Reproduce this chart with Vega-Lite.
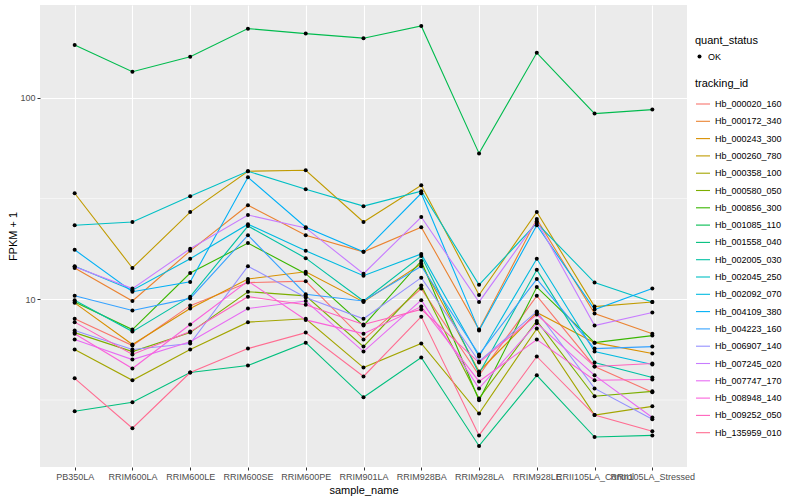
{
"$schema": "https://vega.github.io/schema/vega-lite/v6.json",
"width": 647, "height": 462,
"autosize": {"type": "none"},
"padding": {"left": 40, "top": 5, "right": 113, "bottom": 33},
"background": "white",
"config": {
 "font": "Liberation Sans",
 "view": {"fill": "#EBEBEB", "stroke": null},
 "axis": {"grid": true, "gridColor": "#FFFFFF", "gridWidth": 1.1, "domain": false, "tickColor": "#333333", "tickSize": 3, "labelColor": "#4D4D4D", "labelFontSize": 9, "titleFontSize": 11, "titleFontWeight": "normal", "titleColor": "#000000", "labelPadding": 2},
 "legend": {"titleFontSize": 11, "titleFontWeight": "normal", "titleColor": "#000000", "labelFontSize": 9, "labelColor": "#000000"}
},
"datasets": {
 "minor": [{"fpkm1": 3.162}, {"fpkm1": 31.62}],
 "expr": [
 {"tracking_id":"Hb_000020_160","sample_name":"PB350LA","fpkm1":8.0,"quant_status":"OK"},
 {"tracking_id":"Hb_000020_160","sample_name":"RRIM600LA","fpkm1":5.89,"quant_status":"OK"},
 {"tracking_id":"Hb_000020_160","sample_name":"RRIM600LE","fpkm1":9.3,"quant_status":"OK"},
 {"tracking_id":"Hb_000020_160","sample_name":"RRIM600SE","fpkm1":12.1,"quant_status":"OK"},
 {"tracking_id":"Hb_000020_160","sample_name":"RRIM600PE","fpkm1":12.3,"quant_status":"OK"},
 {"tracking_id":"Hb_000020_160","sample_name":"RRIM901LA","fpkm1":6.31,"quant_status":"OK"},
 {"tracking_id":"Hb_000020_160","sample_name":"RRIM928BA","fpkm1":11.3,"quant_status":"OK"},
 {"tracking_id":"Hb_000020_160","sample_name":"RRIM928LA","fpkm1":4.19,"quant_status":"OK"},
 {"tracking_id":"Hb_000020_160","sample_name":"RRIM928LE","fpkm1":10.4,"quant_status":"OK"},
 {"tracking_id":"Hb_000020_160","sample_name":"RRII105LA_Control","fpkm1":4.64,"quant_status":"OK"},
 {"tracking_id":"Hb_000020_160","sample_name":"RRII105LA_Stressed","fpkm1":3.45,"quant_status":"OK"},
 {"tracking_id":"Hb_000172_340","sample_name":"PB350LA","fpkm1":14.3,"quant_status":"OK"},
 {"tracking_id":"Hb_000172_340","sample_name":"RRIM600LA","fpkm1":9.8,"quant_status":"OK"},
 {"tracking_id":"Hb_000172_340","sample_name":"RRIM600LE","fpkm1":17.4,"quant_status":"OK"},
 {"tracking_id":"Hb_000172_340","sample_name":"RRIM600SE","fpkm1":29.3,"quant_status":"OK"},
 {"tracking_id":"Hb_000172_340","sample_name":"RRIM600PE","fpkm1":20.8,"quant_status":"OK"},
 {"tracking_id":"Hb_000172_340","sample_name":"RRIM901LA","fpkm1":17.2,"quant_status":"OK"},
 {"tracking_id":"Hb_000172_340","sample_name":"RRIM928BA","fpkm1":22.8,"quant_status":"OK"},
 {"tracking_id":"Hb_000172_340","sample_name":"RRIM928LA","fpkm1":7.07,"quant_status":"OK"},
 {"tracking_id":"Hb_000172_340","sample_name":"RRIM928LE","fpkm1":25.0,"quant_status":"OK"},
 {"tracking_id":"Hb_000172_340","sample_name":"RRII105LA_Control","fpkm1":8.5,"quant_status":"OK"},
 {"tracking_id":"Hb_000172_340","sample_name":"RRII105LA_Stressed","fpkm1":6.75,"quant_status":"OK"},
 {"tracking_id":"Hb_000243_300","sample_name":"PB350LA","fpkm1":9.6,"quant_status":"OK"},
 {"tracking_id":"Hb_000243_300","sample_name":"RRIM600LA","fpkm1":5.96,"quant_status":"OK"},
 {"tracking_id":"Hb_000243_300","sample_name":"RRIM600LE","fpkm1":9.0,"quant_status":"OK"},
 {"tracking_id":"Hb_000243_300","sample_name":"RRIM600SE","fpkm1":12.6,"quant_status":"OK"},
 {"tracking_id":"Hb_000243_300","sample_name":"RRIM600PE","fpkm1":13.7,"quant_status":"OK"},
 {"tracking_id":"Hb_000243_300","sample_name":"RRIM901LA","fpkm1":9.7,"quant_status":"OK"},
 {"tracking_id":"Hb_000243_300","sample_name":"RRIM928BA","fpkm1":15.0,"quant_status":"OK"},
 {"tracking_id":"Hb_000243_300","sample_name":"RRIM928LA","fpkm1":4.38,"quant_status":"OK"},
 {"tracking_id":"Hb_000243_300","sample_name":"RRIM928LE","fpkm1":8.6,"quant_status":"OK"},
 {"tracking_id":"Hb_000243_300","sample_name":"RRII105LA_Control","fpkm1":6.09,"quant_status":"OK"},
 {"tracking_id":"Hb_000243_300","sample_name":"RRII105LA_Stressed","fpkm1":5.38,"quant_status":"OK"},
 {"tracking_id":"Hb_000260_780","sample_name":"PB350LA","fpkm1":33.6,"quant_status":"OK"},
 {"tracking_id":"Hb_000260_780","sample_name":"RRIM600LA","fpkm1":14.3,"quant_status":"OK"},
 {"tracking_id":"Hb_000260_780","sample_name":"RRIM600LE","fpkm1":27.1,"quant_status":"OK"},
 {"tracking_id":"Hb_000260_780","sample_name":"RRIM600SE","fpkm1":43.2,"quant_status":"OK"},
 {"tracking_id":"Hb_000260_780","sample_name":"RRIM600PE","fpkm1":43.7,"quant_status":"OK"},
 {"tracking_id":"Hb_000260_780","sample_name":"RRIM901LA","fpkm1":24.2,"quant_status":"OK"},
 {"tracking_id":"Hb_000260_780","sample_name":"RRIM928BA","fpkm1":36.8,"quant_status":"OK"},
 {"tracking_id":"Hb_000260_780","sample_name":"RRIM928LA","fpkm1":10.5,"quant_status":"OK"},
 {"tracking_id":"Hb_000260_780","sample_name":"RRIM928LE","fpkm1":27.1,"quant_status":"OK"},
 {"tracking_id":"Hb_000260_780","sample_name":"RRII105LA_Control","fpkm1":9.2,"quant_status":"OK"},
 {"tracking_id":"Hb_000260_780","sample_name":"RRII105LA_Stressed","fpkm1":9.7,"quant_status":"OK"},
 {"tracking_id":"Hb_000358_100","sample_name":"PB350LA","fpkm1":5.63,"quant_status":"OK"},
 {"tracking_id":"Hb_000358_100","sample_name":"RRIM600LA","fpkm1":3.96,"quant_status":"OK"},
 {"tracking_id":"Hb_000358_100","sample_name":"RRIM600LE","fpkm1":5.63,"quant_status":"OK"},
 {"tracking_id":"Hb_000358_100","sample_name":"RRIM600SE","fpkm1":7.7,"quant_status":"OK"},
 {"tracking_id":"Hb_000358_100","sample_name":"RRIM600PE","fpkm1":8.0,"quant_status":"OK"},
 {"tracking_id":"Hb_000358_100","sample_name":"RRIM901LA","fpkm1":4.58,"quant_status":"OK"},
 {"tracking_id":"Hb_000358_100","sample_name":"RRIM928BA","fpkm1":6.03,"quant_status":"OK"},
 {"tracking_id":"Hb_000358_100","sample_name":"RRIM928LA","fpkm1":2.71,"quant_status":"OK"},
 {"tracking_id":"Hb_000358_100","sample_name":"RRIM928LE","fpkm1":7.15,"quant_status":"OK"},
 {"tracking_id":"Hb_000358_100","sample_name":"RRII105LA_Control","fpkm1":2.66,"quant_status":"OK"},
 {"tracking_id":"Hb_000358_100","sample_name":"RRII105LA_Stressed","fpkm1":2.94,"quant_status":"OK"},
 {"tracking_id":"Hb_000580_050","sample_name":"PB350LA","fpkm1":6.83,"quant_status":"OK"},
 {"tracking_id":"Hb_000580_050","sample_name":"RRIM600LA","fpkm1":5.5,"quant_status":"OK"},
 {"tracking_id":"Hb_000580_050","sample_name":"RRIM600LE","fpkm1":6.83,"quant_status":"OK"},
 {"tracking_id":"Hb_000580_050","sample_name":"RRIM600SE","fpkm1":10.9,"quant_status":"OK"},
 {"tracking_id":"Hb_000580_050","sample_name":"RRIM600PE","fpkm1":10.4,"quant_status":"OK"},
 {"tracking_id":"Hb_000580_050","sample_name":"RRIM901LA","fpkm1":5.82,"quant_status":"OK"},
 {"tracking_id":"Hb_000580_050","sample_name":"RRIM928BA","fpkm1":11.7,"quant_status":"OK"},
 {"tracking_id":"Hb_000580_050","sample_name":"RRIM928LA","fpkm1":3.22,"quant_status":"OK"},
 {"tracking_id":"Hb_000580_050","sample_name":"RRIM928LE","fpkm1":7.8,"quant_status":"OK"},
 {"tracking_id":"Hb_000580_050","sample_name":"RRII105LA_Control","fpkm1":3.3,"quant_status":"OK"},
 {"tracking_id":"Hb_000580_050","sample_name":"RRII105LA_Stressed","fpkm1":3.49,"quant_status":"OK"},
 {"tracking_id":"Hb_000856_300","sample_name":"PB350LA","fpkm1":9.7,"quant_status":"OK"},
 {"tracking_id":"Hb_000856_300","sample_name":"RRIM600LA","fpkm1":7.07,"quant_status":"OK"},
 {"tracking_id":"Hb_000856_300","sample_name":"RRIM600LE","fpkm1":13.5,"quant_status":"OK"},
 {"tracking_id":"Hb_000856_300","sample_name":"RRIM600SE","fpkm1":19.0,"quant_status":"OK"},
 {"tracking_id":"Hb_000856_300","sample_name":"RRIM600PE","fpkm1":13.4,"quant_status":"OK"},
 {"tracking_id":"Hb_000856_300","sample_name":"RRIM901LA","fpkm1":7.4,"quant_status":"OK"},
 {"tracking_id":"Hb_000856_300","sample_name":"RRIM928BA","fpkm1":15.5,"quant_status":"OK"},
 {"tracking_id":"Hb_000856_300","sample_name":"RRIM928LA","fpkm1":3.15,"quant_status":"OK"},
 {"tracking_id":"Hb_000856_300","sample_name":"RRIM928LE","fpkm1":11.5,"quant_status":"OK"},
 {"tracking_id":"Hb_000856_300","sample_name":"RRII105LA_Control","fpkm1":6.09,"quant_status":"OK"},
 {"tracking_id":"Hb_000856_300","sample_name":"RRII105LA_Stressed","fpkm1":6.6,"quant_status":"OK"},
 {"tracking_id":"Hb_001085_110","sample_name":"PB350LA","fpkm1":183.2,"quant_status":"OK"},
 {"tracking_id":"Hb_001085_110","sample_name":"RRIM600LA","fpkm1":134.7,"quant_status":"OK"},
 {"tracking_id":"Hb_001085_110","sample_name":"RRIM600LE","fpkm1":159.8,"quant_status":"OK"},
 {"tracking_id":"Hb_001085_110","sample_name":"RRIM600SE","fpkm1":220.6,"quant_status":"OK"},
 {"tracking_id":"Hb_001085_110","sample_name":"RRIM600PE","fpkm1":208.4,"quant_status":"OK"},
 {"tracking_id":"Hb_001085_110","sample_name":"RRIM901LA","fpkm1":197.8,"quant_status":"OK"},
 {"tracking_id":"Hb_001085_110","sample_name":"RRIM928BA","fpkm1":227.5,"quant_status":"OK"},
 {"tracking_id":"Hb_001085_110","sample_name":"RRIM928LA","fpkm1":53.0,"quant_status":"OK"},
 {"tracking_id":"Hb_001085_110","sample_name":"RRIM928LE","fpkm1":167.3,"quant_status":"OK"},
 {"tracking_id":"Hb_001085_110","sample_name":"RRII105LA_Control","fpkm1":83.5,"quant_status":"OK"},
 {"tracking_id":"Hb_001085_110","sample_name":"RRII105LA_Stressed","fpkm1":87.4,"quant_status":"OK"},
 {"tracking_id":"Hb_001558_040","sample_name":"PB350LA","fpkm1":2.78,"quant_status":"OK"},
 {"tracking_id":"Hb_001558_040","sample_name":"RRIM600LA","fpkm1":3.08,"quant_status":"OK"},
 {"tracking_id":"Hb_001558_040","sample_name":"RRIM600LE","fpkm1":4.33,"quant_status":"OK"},
 {"tracking_id":"Hb_001558_040","sample_name":"RRIM600SE","fpkm1":4.69,"quant_status":"OK"},
 {"tracking_id":"Hb_001558_040","sample_name":"RRIM600PE","fpkm1":6.09,"quant_status":"OK"},
 {"tracking_id":"Hb_001558_040","sample_name":"RRIM901LA","fpkm1":3.26,"quant_status":"OK"},
 {"tracking_id":"Hb_001558_040","sample_name":"RRIM928BA","fpkm1":5.14,"quant_status":"OK"},
 {"tracking_id":"Hb_001558_040","sample_name":"RRIM928LA","fpkm1":1.87,"quant_status":"OK"},
 {"tracking_id":"Hb_001558_040","sample_name":"RRIM928LE","fpkm1":4.19,"quant_status":"OK"},
 {"tracking_id":"Hb_001558_040","sample_name":"RRII105LA_Control","fpkm1":2.07,"quant_status":"OK"},
 {"tracking_id":"Hb_001558_040","sample_name":"RRII105LA_Stressed","fpkm1":2.11,"quant_status":"OK"},
 {"tracking_id":"Hb_002005_030","sample_name":"PB350LA","fpkm1":9.9,"quant_status":"OK"},
 {"tracking_id":"Hb_002005_030","sample_name":"RRIM600LA","fpkm1":6.91,"quant_status":"OK"},
 {"tracking_id":"Hb_002005_030","sample_name":"RRIM600LE","fpkm1":10.3,"quant_status":"OK"},
 {"tracking_id":"Hb_002005_030","sample_name":"RRIM600SE","fpkm1":23.1,"quant_status":"OK"},
 {"tracking_id":"Hb_002005_030","sample_name":"RRIM600PE","fpkm1":16.0,"quant_status":"OK"},
 {"tracking_id":"Hb_002005_030","sample_name":"RRIM901LA","fpkm1":9.8,"quant_status":"OK"},
 {"tracking_id":"Hb_002005_030","sample_name":"RRIM928BA","fpkm1":16.4,"quant_status":"OK"},
 {"tracking_id":"Hb_002005_030","sample_name":"RRIM928LA","fpkm1":4.28,"quant_status":"OK"},
 {"tracking_id":"Hb_002005_030","sample_name":"RRIM928LE","fpkm1":14.0,"quant_status":"OK"},
 {"tracking_id":"Hb_002005_030","sample_name":"RRII105LA_Control","fpkm1":4.85,"quant_status":"OK"},
 {"tracking_id":"Hb_002005_030","sample_name":"RRII105LA_Stressed","fpkm1":4.09,"quant_status":"OK"},
 {"tracking_id":"Hb_002045_250","sample_name":"PB350LA","fpkm1":23.3,"quant_status":"OK"},
 {"tracking_id":"Hb_002045_250","sample_name":"RRIM600LA","fpkm1":24.2,"quant_status":"OK"},
 {"tracking_id":"Hb_002045_250","sample_name":"RRIM600LE","fpkm1":32.5,"quant_status":"OK"},
 {"tracking_id":"Hb_002045_250","sample_name":"RRIM600SE","fpkm1":43.2,"quant_status":"OK"},
 {"tracking_id":"Hb_002045_250","sample_name":"RRIM600PE","fpkm1":35.2,"quant_status":"OK"},
 {"tracking_id":"Hb_002045_250","sample_name":"RRIM901LA","fpkm1":29.0,"quant_status":"OK"},
 {"tracking_id":"Hb_002045_250","sample_name":"RRIM928BA","fpkm1":34.4,"quant_status":"OK"},
 {"tracking_id":"Hb_002045_250","sample_name":"RRIM928LA","fpkm1":11.8,"quant_status":"OK"},
 {"tracking_id":"Hb_002045_250","sample_name":"RRIM928LE","fpkm1":23.9,"quant_status":"OK"},
 {"tracking_id":"Hb_002045_250","sample_name":"RRII105LA_Control","fpkm1":12.1,"quant_status":"OK"},
 {"tracking_id":"Hb_002045_250","sample_name":"RRII105LA_Stressed","fpkm1":9.7,"quant_status":"OK"},
 {"tracking_id":"Hb_002092_070","sample_name":"PB350LA","fpkm1":14.6,"quant_status":"OK"},
 {"tracking_id":"Hb_002092_070","sample_name":"RRIM600LA","fpkm1":11.1,"quant_status":"OK"},
 {"tracking_id":"Hb_002092_070","sample_name":"RRIM600LE","fpkm1":15.9,"quant_status":"OK"},
 {"tracking_id":"Hb_002092_070","sample_name":"RRIM600SE","fpkm1":23.6,"quant_status":"OK"},
 {"tracking_id":"Hb_002092_070","sample_name":"RRIM600PE","fpkm1":17.4,"quant_status":"OK"},
 {"tracking_id":"Hb_002092_070","sample_name":"RRIM901LA","fpkm1":13.1,"quant_status":"OK"},
 {"tracking_id":"Hb_002092_070","sample_name":"RRIM928BA","fpkm1":16.8,"quant_status":"OK"},
 {"tracking_id":"Hb_002092_070","sample_name":"RRIM928LA","fpkm1":5.2,"quant_status":"OK"},
 {"tracking_id":"Hb_002092_070","sample_name":"RRIM928LE","fpkm1":15.9,"quant_status":"OK"},
 {"tracking_id":"Hb_002092_070","sample_name":"RRII105LA_Control","fpkm1":5.5,"quant_status":"OK"},
 {"tracking_id":"Hb_002092_070","sample_name":"RRII105LA_Stressed","fpkm1":4.74,"quant_status":"OK"},
 {"tracking_id":"Hb_004109_380","sample_name":"PB350LA","fpkm1":17.6,"quant_status":"OK"},
 {"tracking_id":"Hb_004109_380","sample_name":"RRIM600LA","fpkm1":10.9,"quant_status":"OK"},
 {"tracking_id":"Hb_004109_380","sample_name":"RRIM600LE","fpkm1":12.2,"quant_status":"OK"},
 {"tracking_id":"Hb_004109_380","sample_name":"RRIM600SE","fpkm1":40.3,"quant_status":"OK"},
 {"tracking_id":"Hb_004109_380","sample_name":"RRIM600PE","fpkm1":22.8,"quant_status":"OK"},
 {"tracking_id":"Hb_004109_380","sample_name":"RRIM901LA","fpkm1":17.2,"quant_status":"OK"},
 {"tracking_id":"Hb_004109_380","sample_name":"RRIM928BA","fpkm1":33.6,"quant_status":"OK"},
 {"tracking_id":"Hb_004109_380","sample_name":"RRIM928LA","fpkm1":6.99,"quant_status":"OK"},
 {"tracking_id":"Hb_004109_380","sample_name":"RRIM928LE","fpkm1":23.3,"quant_status":"OK"},
 {"tracking_id":"Hb_004109_380","sample_name":"RRII105LA_Control","fpkm1":8.9,"quant_status":"OK"},
 {"tracking_id":"Hb_004109_380","sample_name":"RRII105LA_Stressed","fpkm1":11.3,"quant_status":"OK"},
 {"tracking_id":"Hb_004223_160","sample_name":"PB350LA","fpkm1":10.4,"quant_status":"OK"},
 {"tracking_id":"Hb_004223_160","sample_name":"RRIM600LA","fpkm1":8.8,"quant_status":"OK"},
 {"tracking_id":"Hb_004223_160","sample_name":"RRIM600LE","fpkm1":10.1,"quant_status":"OK"},
 {"tracking_id":"Hb_004223_160","sample_name":"RRIM600SE","fpkm1":20.8,"quant_status":"OK"},
 {"tracking_id":"Hb_004223_160","sample_name":"RRIM600PE","fpkm1":10.6,"quant_status":"OK"},
 {"tracking_id":"Hb_004223_160","sample_name":"RRIM901LA","fpkm1":9.8,"quant_status":"OK"},
 {"tracking_id":"Hb_004223_160","sample_name":"RRIM928BA","fpkm1":14.6,"quant_status":"OK"},
 {"tracking_id":"Hb_004223_160","sample_name":"RRIM928LA","fpkm1":5.32,"quant_status":"OK"},
 {"tracking_id":"Hb_004223_160","sample_name":"RRIM928LE","fpkm1":12.6,"quant_status":"OK"},
 {"tracking_id":"Hb_004223_160","sample_name":"RRII105LA_Control","fpkm1":5.69,"quant_status":"OK"},
 {"tracking_id":"Hb_004223_160","sample_name":"RRII105LA_Stressed","fpkm1":5.82,"quant_status":"OK"},
 {"tracking_id":"Hb_006907_140","sample_name":"PB350LA","fpkm1":6.99,"quant_status":"OK"},
 {"tracking_id":"Hb_006907_140","sample_name":"RRIM600LA","fpkm1":5.63,"quant_status":"OK"},
 {"tracking_id":"Hb_006907_140","sample_name":"RRIM600LE","fpkm1":6.03,"quant_status":"OK"},
 {"tracking_id":"Hb_006907_140","sample_name":"RRIM600SE","fpkm1":14.6,"quant_status":"OK"},
 {"tracking_id":"Hb_006907_140","sample_name":"RRIM600PE","fpkm1":10.2,"quant_status":"OK"},
 {"tracking_id":"Hb_006907_140","sample_name":"RRIM901LA","fpkm1":8.0,"quant_status":"OK"},
 {"tracking_id":"Hb_006907_140","sample_name":"RRIM928BA","fpkm1":12.8,"quant_status":"OK"},
 {"tracking_id":"Hb_006907_140","sample_name":"RRIM928LA","fpkm1":4.91,"quant_status":"OK"},
 {"tracking_id":"Hb_006907_140","sample_name":"RRIM928LE","fpkm1":8.7,"quant_status":"OK"},
 {"tracking_id":"Hb_006907_140","sample_name":"RRII105LA_Control","fpkm1":3.61,"quant_status":"OK"},
 {"tracking_id":"Hb_006907_140","sample_name":"RRII105LA_Stressed","fpkm1":2.54,"quant_status":"OK"},
 {"tracking_id":"Hb_007245_020","sample_name":"PB350LA","fpkm1":14.5,"quant_status":"OK"},
 {"tracking_id":"Hb_007245_020","sample_name":"RRIM600LA","fpkm1":11.3,"quant_status":"OK"},
 {"tracking_id":"Hb_007245_020","sample_name":"RRIM600LE","fpkm1":17.8,"quant_status":"OK"},
 {"tracking_id":"Hb_007245_020","sample_name":"RRIM600SE","fpkm1":26.2,"quant_status":"OK"},
 {"tracking_id":"Hb_007245_020","sample_name":"RRIM600PE","fpkm1":22.6,"quant_status":"OK"},
 {"tracking_id":"Hb_007245_020","sample_name":"RRIM901LA","fpkm1":13.4,"quant_status":"OK"},
 {"tracking_id":"Hb_007245_020","sample_name":"RRIM928BA","fpkm1":25.6,"quant_status":"OK"},
 {"tracking_id":"Hb_007245_020","sample_name":"RRIM928LA","fpkm1":9.7,"quant_status":"OK"},
 {"tracking_id":"Hb_007245_020","sample_name":"RRIM928LE","fpkm1":24.4,"quant_status":"OK"},
 {"tracking_id":"Hb_007245_020","sample_name":"RRII105LA_Control","fpkm1":7.4,"quant_status":"OK"},
 {"tracking_id":"Hb_007245_020","sample_name":"RRII105LA_Stressed","fpkm1":8.6,"quant_status":"OK"},
 {"tracking_id":"Hb_007747_170","sample_name":"PB350LA","fpkm1":6.31,"quant_status":"OK"},
 {"tracking_id":"Hb_007747_170","sample_name":"RRIM600LA","fpkm1":5.02,"quant_status":"OK"},
 {"tracking_id":"Hb_007747_170","sample_name":"RRIM600LE","fpkm1":6.16,"quant_status":"OK"},
 {"tracking_id":"Hb_007747_170","sample_name":"RRIM600SE","fpkm1":9.0,"quant_status":"OK"},
 {"tracking_id":"Hb_007747_170","sample_name":"RRIM600PE","fpkm1":9.8,"quant_status":"OK"},
 {"tracking_id":"Hb_007747_170","sample_name":"RRIM901LA","fpkm1":5.5,"quant_status":"OK"},
 {"tracking_id":"Hb_007747_170","sample_name":"RRIM928BA","fpkm1":9.9,"quant_status":"OK"},
 {"tracking_id":"Hb_007747_170","sample_name":"RRIM928LA","fpkm1":3.61,"quant_status":"OK"},
 {"tracking_id":"Hb_007747_170","sample_name":"RRIM928LE","fpkm1":7.6,"quant_status":"OK"},
 {"tracking_id":"Hb_007747_170","sample_name":"RRII105LA_Control","fpkm1":4.19,"quant_status":"OK"},
 {"tracking_id":"Hb_007747_170","sample_name":"RRII105LA_Stressed","fpkm1":2.59,"quant_status":"OK"},
 {"tracking_id":"Hb_008948_140","sample_name":"PB350LA","fpkm1":6.75,"quant_status":"OK"},
 {"tracking_id":"Hb_008948_140","sample_name":"RRIM600LA","fpkm1":4.53,"quant_status":"OK"},
 {"tracking_id":"Hb_008948_140","sample_name":"RRIM600LE","fpkm1":7.5,"quant_status":"OK"},
 {"tracking_id":"Hb_008948_140","sample_name":"RRIM600SE","fpkm1":12.3,"quant_status":"OK"},
 {"tracking_id":"Hb_008948_140","sample_name":"RRIM600PE","fpkm1":7.9,"quant_status":"OK"},
 {"tracking_id":"Hb_008948_140","sample_name":"RRIM901LA","fpkm1":6.75,"quant_status":"OK"},
 {"tracking_id":"Hb_008948_140","sample_name":"RRIM928BA","fpkm1":9.2,"quant_status":"OK"},
 {"tracking_id":"Hb_008948_140","sample_name":"RRIM928LA","fpkm1":3.91,"quant_status":"OK"},
 {"tracking_id":"Hb_008948_140","sample_name":"RRIM928LE","fpkm1":6.31,"quant_status":"OK"},
 {"tracking_id":"Hb_008948_140","sample_name":"RRII105LA_Control","fpkm1":3.96,"quant_status":"OK"},
 {"tracking_id":"Hb_008948_140","sample_name":"RRII105LA_Stressed","fpkm1":4.0,"quant_status":"OK"},
 {"tracking_id":"Hb_009252_050","sample_name":"PB350LA","fpkm1":7.7,"quant_status":"OK"},
 {"tracking_id":"Hb_009252_050","sample_name":"RRIM600LA","fpkm1":5.32,"quant_status":"OK"},
 {"tracking_id":"Hb_009252_050","sample_name":"RRIM600LE","fpkm1":6.91,"quant_status":"OK"},
 {"tracking_id":"Hb_009252_050","sample_name":"RRIM600SE","fpkm1":10.3,"quant_status":"OK"},
 {"tracking_id":"Hb_009252_050","sample_name":"RRIM600PE","fpkm1":9.4,"quant_status":"OK"},
 {"tracking_id":"Hb_009252_050","sample_name":"RRIM901LA","fpkm1":7.5,"quant_status":"OK"},
 {"tracking_id":"Hb_009252_050","sample_name":"RRIM928BA","fpkm1":8.9,"quant_status":"OK"},
 {"tracking_id":"Hb_009252_050","sample_name":"RRIM928LA","fpkm1":4.85,"quant_status":"OK"},
 {"tracking_id":"Hb_009252_050","sample_name":"RRIM928LE","fpkm1":8.4,"quant_status":"OK"},
 {"tracking_id":"Hb_009252_050","sample_name":"RRII105LA_Control","fpkm1":4.64,"quant_status":"OK"},
 {"tracking_id":"Hb_009252_050","sample_name":"RRII105LA_Stressed","fpkm1":4.8,"quant_status":"OK"},
 {"tracking_id":"Hb_135959_010","sample_name":"PB350LA","fpkm1":4.05,"quant_status":"OK"},
 {"tracking_id":"Hb_135959_010","sample_name":"RRIM600LA","fpkm1":2.29,"quant_status":"OK"},
 {"tracking_id":"Hb_135959_010","sample_name":"RRIM600LE","fpkm1":4.33,"quant_status":"OK"},
 {"tracking_id":"Hb_135959_010","sample_name":"RRIM600SE","fpkm1":5.69,"quant_status":"OK"},
 {"tracking_id":"Hb_135959_010","sample_name":"RRIM600PE","fpkm1":6.83,"quant_status":"OK"},
 {"tracking_id":"Hb_135959_010","sample_name":"RRIM901LA","fpkm1":4.14,"quant_status":"OK"},
 {"tracking_id":"Hb_135959_010","sample_name":"RRIM928BA","fpkm1":8.2,"quant_status":"OK"},
 {"tracking_id":"Hb_135959_010","sample_name":"RRIM928LA","fpkm1":2.11,"quant_status":"OK"},
 {"tracking_id":"Hb_135959_010","sample_name":"RRIM928LE","fpkm1":5.2,"quant_status":"OK"},
 {"tracking_id":"Hb_135959_010","sample_name":"RRII105LA_Control","fpkm1":2.66,"quant_status":"OK"},
 {"tracking_id":"Hb_135959_010","sample_name":"RRII105LA_Stressed","fpkm1":2.21,"quant_status":"OK"}
 ]
},
"layer": [
 {
  "data": {"name": "minor"},
  "mark": {"type": "rule", "color": "#FFFFFF", "strokeWidth": 0.55},
  "encoding": {
   "y": {"field": "fpkm1", "type": "quantitative", "title": "FPKM + 1"}
  }
 },
 {
  "data": {"name": "expr"},
  "mark": {"type": "line", "strokeWidth": 1.1},
  "encoding": {
   "x": {"field": "sample_name", "type": "nominal", "title": "sample_name",
     "sort": ["PB350LA","RRIM600LA","RRIM600LE","RRIM600SE","RRIM600PE","RRIM901LA","RRIM928BA","RRIM928LA","RRIM928LE","RRII105LA_Control","RRII105LA_Stressed"],
     "scale": {"type": "point", "padding": 0.6},
     "axis": {"labelAngle": 0, "labelOverlap": false, "labelLimit": 0, "titlePadding": 3}},
   "y": {"field": "fpkm1", "type": "quantitative", "title": "FPKM + 1",
     "scale": {"type": "log", "domain": [1.47, 289], "nice": false},
     "axis": {"values": [10, 100], "format": "d", "titlePadding": 1}},
   "color": {"field": "tracking_id", "type": "nominal", "title": "tracking_id",
     "scale": {"range": ["#F8766D","#EA8331","#D89000","#C09B00","#A3A500","#7CAE00","#39B600","#00BB4E","#00BF7D","#00C1A3","#00BFC4","#00BAE0","#00B0F6","#35A2FF","#9590FF","#C77CFF","#E76BF3","#FA62DB","#FF62BC","#FF6C91"]},
     "legend": {"orient": "none", "legendX": 655, "legendY": 73, "symbolType": "stroke", "symbolSize": 196, "symbolStrokeWidth": 1.1, "rowPadding": 4.3, "titlePadding": 7}},
   "order": {"value": null}
  }
 },
 {
  "data": {"name": "expr"},
  "mark": {"type": "point", "filled": true, "color": "#000000", "size": 16, "opacity": 1},
  "encoding": {
   "x": {"field": "sample_name", "type": "nominal", "sort": ["PB350LA","RRIM600LA","RRIM600LE","RRIM600SE","RRIM600PE","RRIM901LA","RRIM928BA","RRIM928LA","RRIM928LE","RRII105LA_Control","RRII105LA_Stressed"]},
   "y": {"field": "fpkm1", "type": "quantitative", "title": "FPKM + 1"},
   "shape": {"field": "quant_status", "type": "nominal", "title": "quant_status",
     "scale": {"domain": ["OK"], "range": ["circle"]},
     "legend": {"orient": "none", "legendX": 655, "legendY": 30, "symbolFillColor": "#000000", "symbolStrokeColor": "#000000", "symbolSize": 16, "titlePadding": 6}}
  }
 }
]
}
